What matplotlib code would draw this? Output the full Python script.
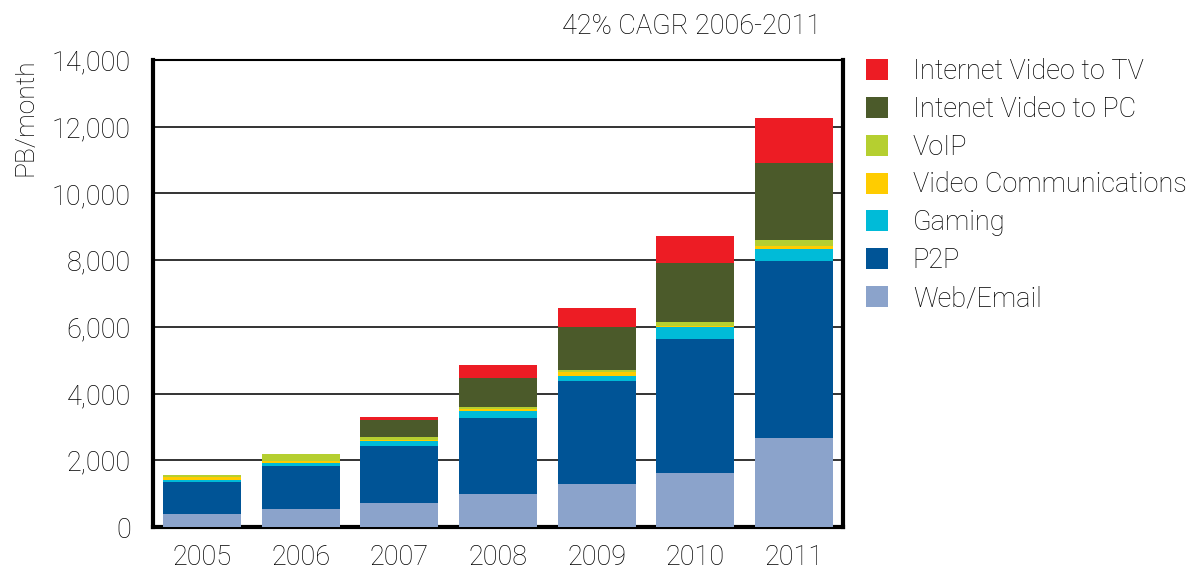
import matplotlib
matplotlib.use("Agg")
import matplotlib.pyplot as plt
import numpy as np

plt.rcParams['font.family'] = ['Roboto', 'DejaVu Sans']
plt.rcParams['font.weight'] = 'light'

years = ['2005', '2006', '2007', '2008', '2009', '2010', '2011']
web_email = [400, 530, 710, 1000, 1300, 1610, 2680]
p2p = [960, 1310, 1730, 2280, 3070, 4030, 5280]
gaming = [60, 70, 140, 200, 170, 360, 360]
video_comm = [80, 70, 30, 60, 120, 20, 110]
voip = [50, 200, 100, 50, 60, 140, 170]
video_pc = [0, 0, 500, 890, 1290, 1740, 2300]
video_tv = [0, 0, 80, 380, 560, 820, 1350]

series = [
    ('Web/Email', web_email, '#8BA3CB'),
    ('P2P', p2p, '#005496'),
    ('Gaming', gaming, '#00BBD8'),
    ('Video Communications', video_comm, '#FFCC00'),
    ('VoIP', voip, '#B5CF30'),
    ('Intenet Video to PC', video_pc, '#4B5A2A'),
    ('Internet Video to TV', video_tv, '#ED1C24'),
]

FS = 19.5
TXT = '#000000'
W, H = 1188, 568
fig = plt.figure(figsize=(W / 100, H / 100), dpi=100)
ax = fig.add_axes([153 / W, 1 - 527 / H, (843 - 153) / W, (527 - 60) / H])

x = np.arange(len(years))
bottom = np.zeros(len(years))
handles = []
for name, vals, col in series:
    vals = np.array(vals, dtype=float)
    b = ax.bar(x, vals, 0.79, bottom=bottom, color=col, edgecolor='none', label=name, zorder=3)
    handles.append(b)
    bottom += vals

ax.set_xlim(-0.5, 6.5)
ax.set_ylim(0, 14000)
ax.set_yticks(range(0, 14001, 2000))
ax.set_yticklabels([f'{v:,}' for v in range(0, 14001, 2000)])
ax.set_xticks(x)
ax.set_xticklabels(years)
ax.tick_params(axis='both', length=0, labelsize=FS, colors=TXT)
ax.tick_params(axis='y', pad=16)
ax.tick_params(axis='x', pad=12)
ax.yaxis.grid(True, color='#333333', linewidth=1.4, zorder=1)
ax.set_axisbelow(True)
for s in ['left', 'bottom', 'right']:
    ax.spines[s].set_linewidth(3)
    ax.spines[s].set_color('black')
ax.spines['top'].set_linewidth(1.5)
ax.spines['top'].set_color('black')

fig.text(25 / W, 1 - 58 / H, 'PB/month', rotation=90, ha='center', va='top', fontsize=19, color=TXT)
fig.text(692 / W, 1 - 27 / H, '42% CAGR 2006-2011', ha='center', va='center', fontsize=FS, color=TXT)

leg = fig.legend(handles=handles[::-1], labels=[s[0] for s in series][::-1],
                 loc='upper left', bbox_to_anchor=(866 / W, 1 - 58 / H),
                 frameon=False, fontsize=FS, handlelength=0.81, handleheight=0.81,
                 labelspacing=0.40, handletextpad=0.92, borderpad=0, borderaxespad=0)
for t in leg.get_texts():
    t.set_color(TXT)

fig.savefig('out.png', dpi=100)
